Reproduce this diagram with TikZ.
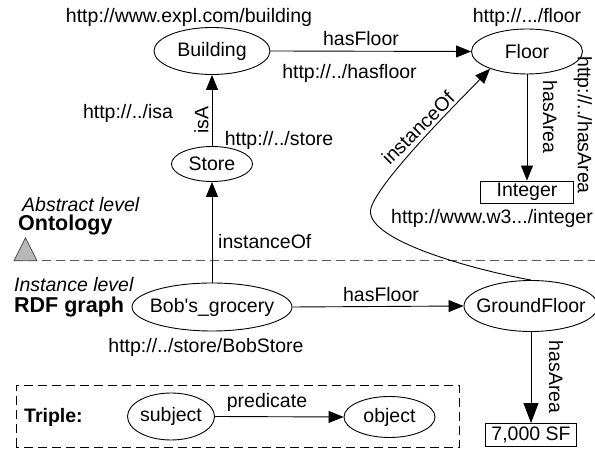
\documentclass[tikz,border=0pt]{standalone}
\usepackage{fontspec}
\setmainfont{Liberation Sans}
\usetikzlibrary{shapes.geometric,arrows.meta}
\begin{document}
\begin{tikzpicture}[x=1pt,y=1pt,
  every node/.style={font=\fontsize{19.5}{22}\selectfont},
  ell/.style={ellipse,draw,line width=0.9pt,inner sep=0pt},
  box/.style={rectangle,draw,line width=0.9pt,inner sep=0pt},
  conn/.style={line width=0.9pt,-{Triangle[length=15pt,width=12pt]}},
  bigconn/.style={line width=0.9pt,-{Triangle[length=20pt,width=15pt]}},
  lbl/.style={inner sep=0pt},
  bigbold/.style={font=\fontsize{21.5}{24}\selectfont\bfseries,inner sep=0pt},
  ital/.style={font=\fontsize{19.5}{22}\selectfont\itshape,inner sep=0pt},
  bld/.style={font=\fontsize{19.5}{22}\selectfont\bfseries,inner sep=0pt}]
\useasboundingbox (0,0) rectangle (595,449);
% level separator
\draw[line width=1.4pt,draw=black!65,dash pattern=on 9pt off 5pt] (14,188.3) -- (595,188.3);
\draw[line width=0.8pt,draw=black!70,fill=black!28] (14,188.3) -- (37,188.3) -- (25.5,211.3) -- cycle;
% ontology nodes
\node[ell,minimum width=116pt,minimum height=47pt,label=center:Building] (building) at (212,398) {};
\node[ell,minimum width=111pt,minimum height=45pt,label=center:Floor] (floor) at (527,397.5) {};
\node[ell,minimum width=81pt,minimum height=35pt,label=center:Store] (store) at (212,285) {};
\node[box,minimum width=93pt,minimum height=22pt] (integer) at (527,257) {Integer};
% instance nodes
\node[ell,minimum width=160pt,minimum height=48pt,label={center:Bob\textquotesingle s\_grocery}] (bob) at (212,142) {};
\node[ell,minimum width=134pt,minimum height=51pt,label=center:GroundFloor] (gf) at (531,143) {};
\node[box,minimum width=91pt,minimum height=23pt] (sf) at (531,14) {7,000 SF};
% triple legend
\draw[line width=0.8pt,dash pattern=on 9pt off 5pt] (16,1.7) rectangle (459,64);
\node[ell,minimum width=87pt,minimum height=47pt,label=center:subject] (subject) at (171,32.5) {};
\node[ell,minimum width=91pt,minimum height=41pt,label=center:object] (object) at (389.5,32) {};
% connectors
\draw[conn] (building.east) -- (floor.west);
\draw[conn] (store.north) -- (building.south);
\draw[conn] (bob.north) -- (store.south);
\draw[conn] (floor.south) -- (integer.north);
\draw[conn] (bob.east) -- (gf.west);
\draw[bigconn] (gf.south) -- (sf.north);
\draw[conn] (subject.east) -- (object.west);
\draw[conn] (gf.north) .. controls (470,180) and (362,210) .. (371,241)
  .. controls (379,269) and (466,355) .. (floor.205);
% labels
\node[lbl] (lurlb) at (189,432) {http://www.expl.com/building};
\node[lbl] (lurlf) at (527,432) {http://.../floor};
\node[lbl] (lhf1) at (361,410) {hasFloor};
\node[lbl] (lhf1u) at (349.5,376) {http://../hasfloor};
\node[lbl,rotate=90] (lisa) at (201.5,329) {isA};
\node[lbl] (lisau) at (128,336) {http://../isa};
\node[lbl] (lstu) at (279,309) {http://../store};
\node[lbl,anchor=west] (linst) at (218,207) {instanceOf};
\node[lbl,rotate=-90] (lha1) at (550,332) {hasArea};
\node[lbl,rotate=-90] (lha1u) at (583,324) {http://../hasArea};
\node[lbl,anchor=west] (lint) at (391,231) {http://www.w3.../integer};
\node[lbl,rotate=45] (linst2) at (418,321) {instanceOf};
\node[lbl] (lhf2) at (381,154) {hasFloor};
\node[lbl] (lbobu) at (206,102) {http://../store/BobStore};
\node[lbl,rotate=-90] (lha2) at (556,72) {hasArea};
\node[lbl] (lpred) at (267,47) {predicate};
\node[bld,anchor=west] (ltrip) at (24,32) {Triple:};
\node[ital,anchor=west] (labs) at (22,244) {Abstract level};
\node[bigbold,anchor=west] (lont) at (18,224) {Ontology};
\node[ital,anchor=west] (linsl) at (14,164) {Instance level};
\node[bigbold,anchor=west] (lrdf) at (14,142) {RDF graph};
\end{tikzpicture}
\end{document}
